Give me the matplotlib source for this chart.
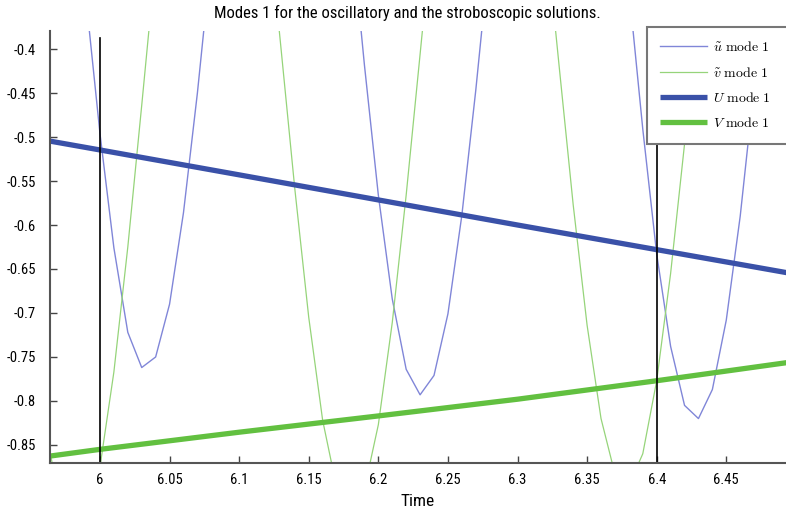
import matplotlib
matplotlib.use("Agg")
import matplotlib.pyplot as plt
from matplotlib import font_manager

# ---- data ----
t = [5.96, 5.97, 5.98, 5.99, 6.00, 6.01, 6.02, 6.03, 6.04, 6.05,
     6.06, 6.07, 6.08, 6.09, 6.10, 6.11, 6.12, 6.13, 6.14, 6.15,
     6.16, 6.17, 6.18, 6.19, 6.20, 6.21, 6.22, 6.23, 6.24, 6.25,
     6.26, 6.27, 6.28, 6.29, 6.30, 6.31, 6.32, 6.33, 6.34, 6.35,
     6.36, 6.37, 6.38, 6.39, 6.40, 6.41, 6.42, 6.43, 6.44, 6.45,
     6.46, 6.47, 6.48, 6.49, 6.50]

u_tilde = [0.113, -0.023, -0.180, -0.343, -0.496, -0.626, -0.722, -0.762, -0.750, -0.690,
           -0.586, -0.450, -0.295, -0.136, 0.012, 0.131, 0.212, 0.244, 0.226, 0.158,
           0.047, -0.095, -0.255, -0.418, -0.566, -0.684, -0.764, -0.793, -0.771, -0.701,
           -0.589, -0.447, -0.289, -0.131, 0.010, 0.121, 0.190, 0.210, 0.179, 0.099,
           -0.021, -0.169, -0.331, -0.491, -0.633, -0.738, -0.805, -0.820, -0.787, -0.708,
           -0.590, -0.443, -0.284, -0.129, 0.006]

v_tilde = [-0.821, -0.909, -0.950, -0.938, -0.875, -0.767, -0.625, -0.464, -0.299, -0.147,
           -0.022, 0.062, 0.097, 0.080, 0.014, -0.096, -0.238, -0.398, -0.559, -0.705,
           -0.822, -0.898, -0.925, -0.900, -0.827, -0.711, -0.566, -0.406, -0.245, -0.102,
           0.011, 0.082, 0.104, 0.075, -0.002, -0.118, -0.263, -0.421, -0.577, -0.714,
           -0.820, -0.883, -0.896, -0.860, -0.777, -0.655, -0.508, -0.349, -0.194, -0.060,
           0.041, 0.099, 0.108, 0.068, -0.018]

t_strobe = [5.96, 6.0, 6.1, 6.2, 6.3, 6.4, 6.5]
U_mode = [-0.5035, -0.5147, -0.543, -0.5715, -0.600, -0.628, -0.656]
V_mode = [-0.8635, -0.855, -0.8355, -0.817, -0.798, -0.777, -0.755]

markers_t = [6.0, 6.4]
marker_top = -0.3875

xticks = [6.0, 6.05, 6.1, 6.15, 6.2, 6.25, 6.3, 6.35, 6.4, 6.45]
xticklabels = ["6", "6.05", "6.1", "6.15", "6.2", "6.25", "6.3", "6.35", "6.4", "6.45"]
yticks = [-0.4, -0.45, -0.5, -0.55, -0.6, -0.65, -0.7, -0.75, -0.8, -0.85]
yticklabels = ["-0.4", "-0.45", "-0.5", "-0.55", "-0.6", "-0.65", "-0.7", "-0.75", "-0.8", "-0.85"]

labels = [r"$\tilde{u}\ \mathrm{mode\ 1}$", r"$\tilde{v}\ \mathrm{mode\ 1}$",
          r"$U\ \mathrm{mode\ 1}$", r"$V\ \mathrm{mode\ 1}$"]

# ---- style ----
plt.rcParams["mathtext.fontset"] = "cm"
plt.rcParams["axes.unicode_minus"] = False
available = {f.name for f in font_manager.fontManager.ttflist}
sans = [f for f in ["Roboto Condensed", "Liberation Sans Narrow", "Lato", "DejaVu Sans"]
        if f in available]

fig = plt.figure(figsize=(7.86, 5.16), dpi=100)
ax = fig.add_axes([50 / 786, 1 - 463 / 516, 736 / 786, 432 / 516])

c_u = "#8086d8"
c_v = "#96d47a"
c_U = "#3a51a8"
c_V = "#62c040"

ax.plot(t, u_tilde, color=c_u, lw=1.0, label=labels[0])
ax.plot(t, v_tilde, color=c_v, lw=0.9, label=labels[1])
ax.plot(t_strobe, U_mode, color=c_U, lw=3.8, label=labels[2], solid_capstyle="butt")
ax.plot(t_strobe, V_mode, color=c_V, lw=3.8, label=labels[3], solid_capstyle="butt")
for xm in markers_t:
    ax.plot([xm, xm], [-0.9, marker_top], color="black", lw=1.2)

ax.set_xlim(5.9641, 6.4929)
ax.set_ylim(-0.8705, -0.3795)

ax.set_xticks(xticks)
ax.set_xticklabels(xticklabels, family=sans, fontsize=10.5)
ax.set_yticks(yticks)
ax.set_yticklabels(yticklabels, family=sans, fontsize=10.5)
ax.tick_params(direction="in", length=5, width=1.0, color="#444444")
ax.tick_params(axis="x", pad=7)
ax.tick_params(axis="y", pad=10)

for s in ["top", "right"]:
    ax.spines[s].set_visible(False)
for s in ["left", "bottom"]:
    ax.spines[s].set_color("#555555")
    ax.spines[s].set_linewidth(1.5)

ax.set_xlabel("Time", family=sans, fontsize=12.5, labelpad=5)
fig.text(407 / 786, 1 - 13 / 516, "Modes 1 for the oscillatory and the stroboscopic solutions.",
         family=sans, fontsize=12, ha="center", va="center")

leg = ax.legend(loc="upper left",
                bbox_to_anchor=(647 / 786, 1 - 27 / 516 - 0.01, 150 / 786, 0.01),
                bbox_transform=fig.transFigure, mode="expand", fontsize=10, handlelength=3.4,
                handletextpad=0.4, labelspacing=0.82, borderaxespad=0,
                borderpad=0.95, fancybox=False, framealpha=1, edgecolor="#777777")
leg.get_frame().set_linewidth(1.5)

fig.savefig("out.png", dpi=100)
